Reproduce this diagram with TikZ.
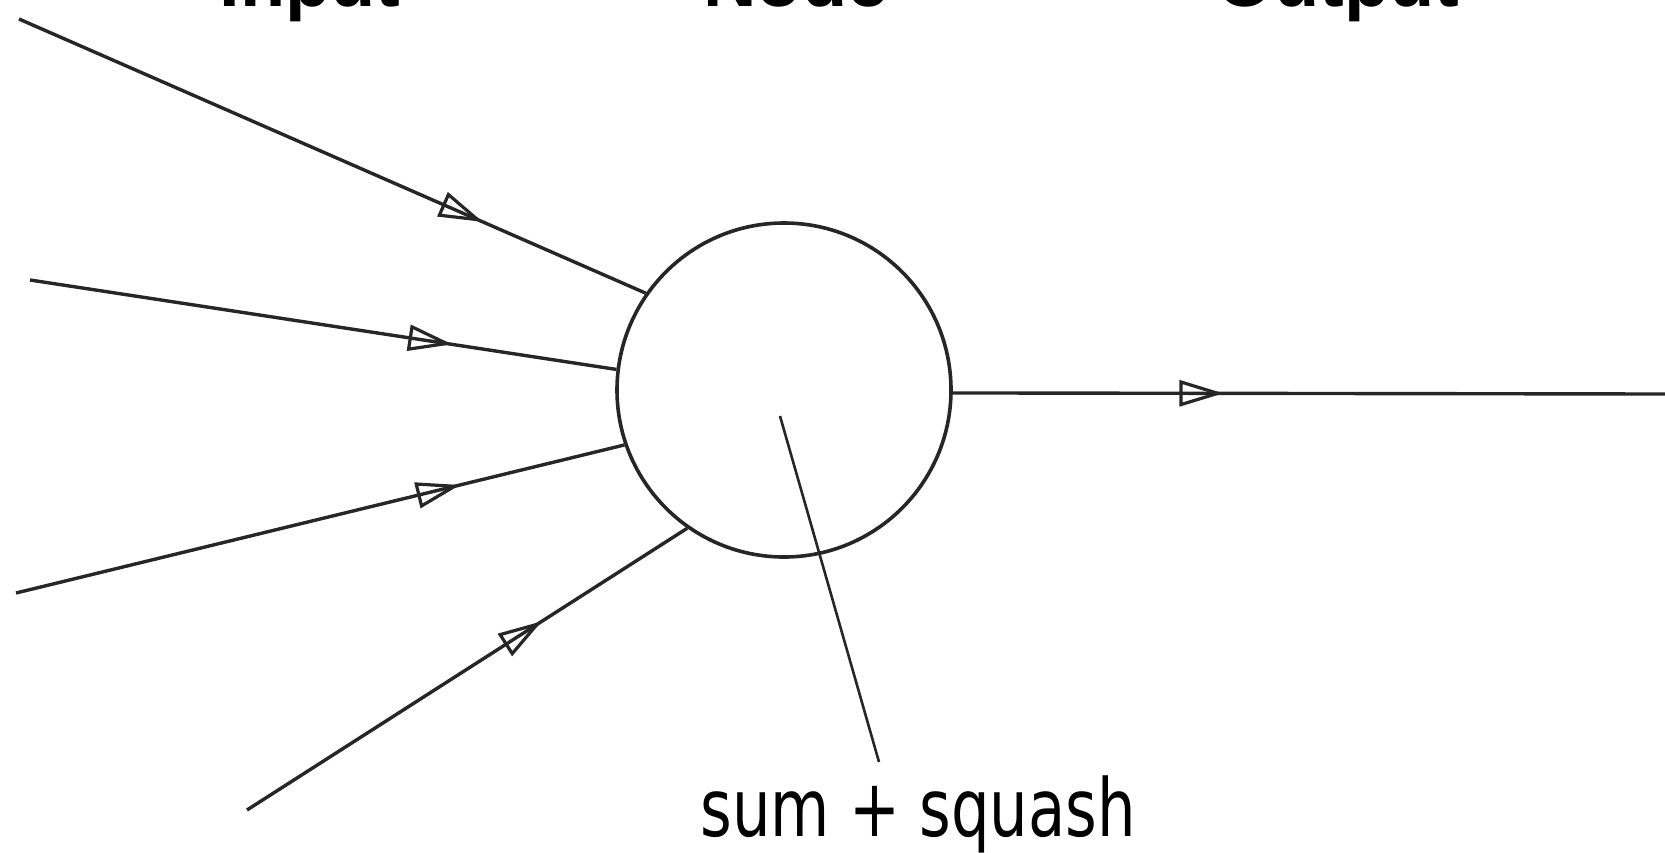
\documentclass[tikz,border=0pt]{standalone}
\usepackage{fontspec}
\setmainfont{DejaVu Sans}
\newfontfamily\headfont{Liberation Sans}
\usetikzlibrary{arrows.meta,decorations.markings}
\tikzset{
  conn/.style={line width=1.7pt, draw=black!85, postaction={decorate},
    decoration={markings, mark=at position #1 with {\arrow{Triangle[open,length=22pt,width=13pt,line width=1.6pt]}}}},
  conn/.default=0.73,
  neuron/.style={circle, draw=black!85, line width=1.8pt, minimum size=334*0.5pt, inner sep=0pt},
  head/.style={anchor=base, inner sep=0pt, font=\headfont\bfseries\fontsize{37pt}{40pt}\selectfont},
  lab/.style={anchor=base, inner sep=0pt, font=\fontsize{40pt}{44pt}\selectfont}
}
\begin{document}
\begin{tikzpicture}[x=0.5pt,y=-0.5pt]
\useasboundingbox (0,0) rectangle (1665,852);
\node[neuron] (c) at (784,390) {};
\coordinate (i1) at (19,19);
\coordinate (i2) at (30,280);
\coordinate (i3) at (16,593);
\coordinate (i4) at (247,810);
\coordinate (o) at (1665,394);
\coordinate (p) at (780,416);
\coordinate (pe) at (879,762);
\node[lab] (sq) at (918,836) {\scalebox{0.76}[1]{sum + squash}};
\node[head] (hin) at (310,6) {Input};
\node[head] (hnode) at (796,6) {Node};
\node[head] (hout) at (1338,6) {Output};
\draw[conn=0.74] (i1) -- (c.145);
\draw[conn=0.72] (i2) -- (c.173.5);
\draw[conn=0.73] (i3) -- (c.199);
\draw[conn=0.67] (i4) -- (c.235);
\draw[conn=0.38] (c.-1) -- (o);
\draw[line width=1.3pt, draw=black!85] (p) -- (pe);
\end{tikzpicture}
\end{document}
